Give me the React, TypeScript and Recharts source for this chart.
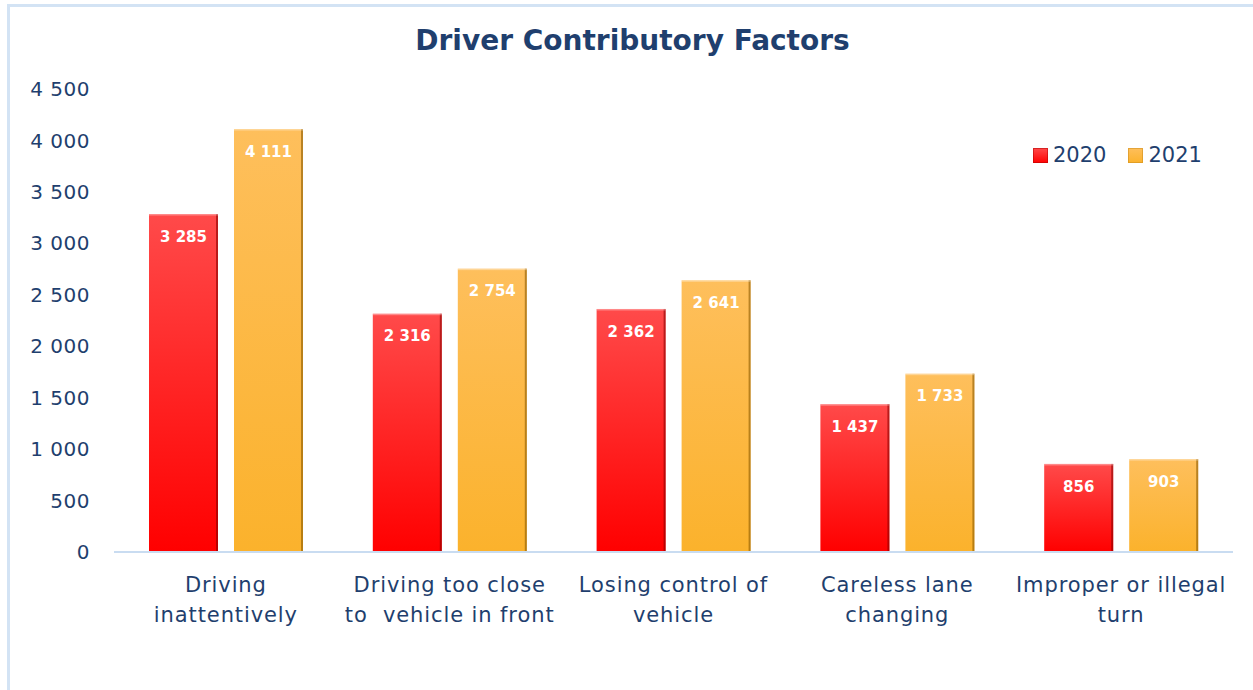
import { BarChart, Bar, XAxis, YAxis, Legend, LabelList } from 'recharts'

const categories = [
  'Driving\ninattentively',
  'Driving too close\nto  vehicle in front',
  'Losing control of\nvehicle',
  'Careless lane\nchanging',
  'Improper or illegal\nturn',
]
const values2020 = [3285, 2316, 2362, 1437, 856]
const values2021 = [4111, 2754, 2641, 1733, 903]
const yTicks = [0, 500, 1000, 1500, 2000, 2500, 3000, 3500, 4000, 4500]
const seriesNames = ['2020', '2021']

const FONT = "'Century Gothic', 'DejaVu Sans', sans-serif"
const NAVY = '#1F3F6E'

const data = categories.map((cat, i) => ({
  cat,
  y2020: values2020[i],
  y2021: values2021[i],
}))

function fmt(n: number) {
  return String(n).replace(/\B(?=(\d{3})+(?!\d))/g, ' ')
}

function CategoryTick({ x, y, payload }: any) {
  const lines = String(payload.value).split('\n')
  return (
    <text
      x={x}
      y={y}
      textAnchor="middle"
      fill={NAVY}
      fontSize={21}
      letterSpacing={0.9}
      fontFamily={FONT}
      style={{ whiteSpace: 'pre' }}
    >
      {lines.map((l, i) => (
        <tspan key={i} x={x} dy={i === 0 ? 40 : 30}>
          {l}
        </tspan>
      ))}
    </text>
  )
}

function BevelBar(props: any) {
  const { x, y, width, height, fill, edge } = props
  if (!height || height <= 0) return null
  return (
    <g>
      <rect x={x} y={y} width={width} height={height} fill={fill} />
      <rect x={x + width - 2} y={y} width={2} height={height} fill={edge} opacity={0.6} />
      <rect x={x} y={y} width={width} height={1.5} fill="#ffffff" opacity={0.35} />
    </g>
  )
}

function LegendBox() {
  const items = [
    { name: seriesNames[0], fill: 'url(#gRed)' },
    { name: seriesNames[1], fill: 'url(#gOrange)' },
  ]
  return (
    <div style={{ display: 'flex', alignItems: 'center', fontFamily: FONT, fontSize: 21, color: NAVY }}>
      {items.map((it, i) => (
        <div key={it.name} style={{ display: 'flex', alignItems: 'center', marginRight: i === 0 ? 22 : 0 }}>
          <svg width={15} height={15} style={{ marginRight: 5 }}>
            <rect x={0} y={0} width={15} height={15} fill={it.fill} />
            <rect x={0.5} y={0.5} width={14} height={14} fill="none" stroke={i === 0 ? '#B00000' : '#C98A1A'} strokeOpacity={0.5} />
          </svg>
          <span>{it.name}</span>
        </div>
      ))}
    </div>
  )
}

export default function App() {
  return (
    <div style={{ position: 'fixed', left: 0, top: 0, width: 1253, height: 690, background: '#fff' }}>
      <div
        style={{
          position: 'absolute',
          left: 7,
          top: 4,
          right: 0,
          bottom: 0,
          borderLeft: '3px solid #D3E3F4',
          borderTop: '3px solid #D3E3F4',
        }}
      />
      <div
        style={{
          position: 'absolute',
          left: 0,
          width: 1265,
          top: 24,
          textAlign: 'center',
          fontFamily: FONT,
          fontWeight: 'bold',
          fontSize: 28,
          color: NAVY,
        }}
      >
        Driver Contributory Factors
      </div>
      <div style={{ position: 'absolute', left: 0, top: 0 }}>
        <BarChart width={1253} height={690} data={data} margin={{ top: 89, right: 20, left: 14, bottom: 0 }} barSize={69} barGap={16}>
          <defs>
            <linearGradient id="gRed" x1="0" y1="0" x2="0" y2="1">
              <stop offset="0%" stopColor="#FF4A4A" />
              <stop offset="100%" stopColor="#FF0000" />
            </linearGradient>
            <linearGradient id="gOrange" x1="0" y1="0" x2="0" y2="1">
              <stop offset="0%" stopColor="#FEBF5C" />
              <stop offset="100%" stopColor="#FBB22C" />
            </linearGradient>
          </defs>
          <XAxis
            dataKey="cat"
            height={138}
            interval={0}
            tickLine={false}
            tickSize={0}
            tickMargin={0}
            axisLine={{ stroke: '#C9DCF1', strokeWidth: 2 }}
            tick={<CategoryTick />}
          />
          <YAxis
            width={100}
            domain={[0, 4500]}
            ticks={yTicks}
            axisLine={false}
            tickLine={false}
            tickSize={0}
            tickMargin={24}
            tickFormatter={fmt}
            tick={{ fill: NAVY, fontSize: 20, fontFamily: FONT, letterSpacing: 0.5 }}
          />
          <Legend
            layout="horizontal"
            align="center"
            verticalAlign="middle"
            wrapperStyle={{ top: 143, left: 1033, width: 200 }}
            content={<LegendBox />}
          />
          <Bar
            dataKey="y2020"
            name={seriesNames[0]}
            fill="url(#gRed)"
            isAnimationActive={false}
            shape={(p: any) => <BevelBar {...p} fill="url(#gRed)" edge="#8A0000" />}
          >
            <LabelList
              dataKey="y2020"
              position="insideTop"
              offset={17}
              formatter={(v: any) => fmt(Number(v))}
              fill="#ffffff"
              fontSize={15}
              fontWeight="bold"
              fontFamily={FONT}
            />
          </Bar>
          <Bar
            dataKey="y2021"
            name={seriesNames[1]}
            fill="url(#gOrange)"
            isAnimationActive={false}
            shape={(p: any) => <BevelBar {...p} fill="url(#gOrange)" edge="#8A5A00" />}
          >
            <LabelList
              dataKey="y2021"
              position="insideTop"
              offset={17}
              formatter={(v: any) => fmt(Number(v))}
              fill="#ffffff"
              fontSize={15}
              fontWeight="bold"
              fontFamily={FONT}
            />
          </Bar>
        </BarChart>
      </div>
    </div>
  )
}
